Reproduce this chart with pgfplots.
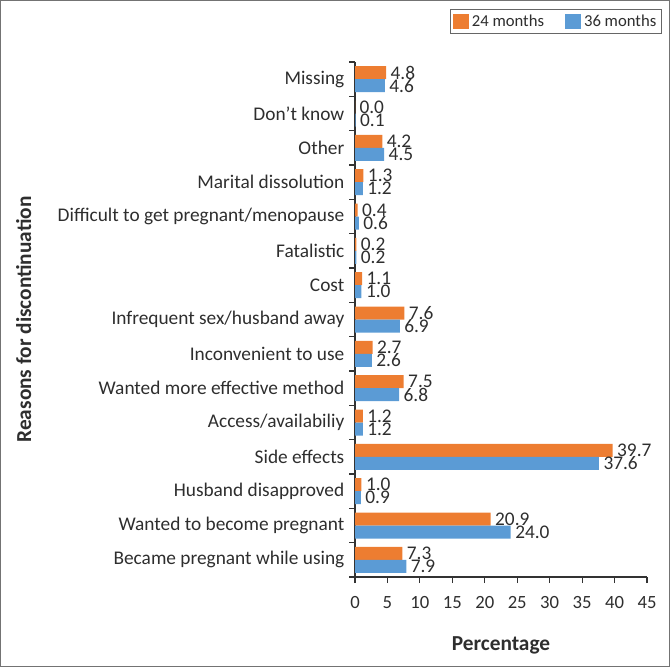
\documentclass[border=0pt]{standalone}
\usepackage{pgfplots}
\pgfplotsset{compat=1.18}
\usepackage{fontspec}
\setmainfont{Carlito}
\definecolor{c24}{HTML}{ED7D31}
\definecolor{c36}{HTML}{5B9BD5}
\definecolor{txt}{HTML}{2E2E2E}
\begin{document}
\begin{tikzpicture}
\useasboundingbox (0,0) rectangle (502.5pt,-500.25pt);
\draw[black!55, line width=1.1pt] (0.55pt,-0.55pt) rectangle (501.95pt,-499.7pt);
\begin{axis}[
  at={(266.25pt,-432.75pt)}, anchor=south west,
  scale only axis, width=219pt, height=386.25pt,
  xbar, bar width=9.75pt,
  xmin=0, xmax=45, ymin=-0.5, ymax=14.5,
  axis x line*=bottom, axis y line*=left,
  axis line style={-, black!80, line width=0.8pt},
  /pgf/number format/assume math mode=true,
  tick align=outside,
  xtick={0,5,...,45},
  major tick length=4.5pt, minor tick length=4.5pt,
  tick style={black!80, line width=0.8pt},
  ytick={0,...,14},
  minor ytick={-0.5,0.5,...,14.5},
  major y tick style={draw=none},
  yticklabels={Became pregnant while using, Wanted to become pregnant, Husband disapproved, Side effects, Access/availabiliy, Wanted more effective method, Inconvenient to use, Infrequent sex/husband away, Cost, Fatalistic, Difficult to get pregnant/menopause, Marital dissolution, Other, Don’t know, Missing},
  yticklabel style={font=\fontsize{14.5}{16}\selectfont, text=txt},
  xticklabel style={font=\fontsize{14}{16}\selectfont, text=txt, yshift=-6.5pt},
  xlabel={Percentage}, ylabel={Reasons for discontinuation},
  xlabel style={font=\fontsize{16}{18}\selectfont\bfseries, text=txt, at={(axis description cs:0.5,-0.132)}, anchor=center},
  ylabel style={font=\fontsize{16}{18}\selectfont\bfseries, text=txt, at={(axis description cs:-1.135,0.5)}, anchor=center},
  nodes near coords,
  nodes near coords style={font=\fontsize{14.5}{16}\selectfont, text=txt, anchor=west, inner sep=3.2pt, /pgf/number format/.cd, fixed, fixed zerofill, precision=1},
  legend style={at={(rel axis cs:1.051,1.103)}, anchor=north east, legend columns=2, draw=black!60, font=\fontsize{12.5}{14}\selectfont, text=txt, inner sep=2pt, /tikz/every even column/.append style={column sep=14pt}},
  legend image code/.code={\fill[#1,draw=none] (0pt,-5.5pt) rectangle (12pt,5.5pt);},
]
\addplot[fill=c24, draw=none, bar shift=4.875pt] coordinates {
(7.3,0) (20.9,1) (1.0,2) (39.7,3) (1.2,4) (7.5,5) (2.7,6) (7.6,7) (1.1,8) (0.2,9) (0.4,10) (1.3,11) (4.2,12) (0.0,13) (4.8,14)};
\addplot[fill=c36, draw=none, bar shift=-4.875pt] coordinates {
(7.9,0) (24.0,1) (0.9,2) (37.6,3) (1.2,4) (6.8,5) (2.6,6) (6.9,7) (1.0,8) (0.2,9) (0.6,10) (1.2,11) (4.5,12) (0.1,13) (4.6,14)};
\legend{24 months, 36 months}
\end{axis}
\end{tikzpicture}
\end{document}
